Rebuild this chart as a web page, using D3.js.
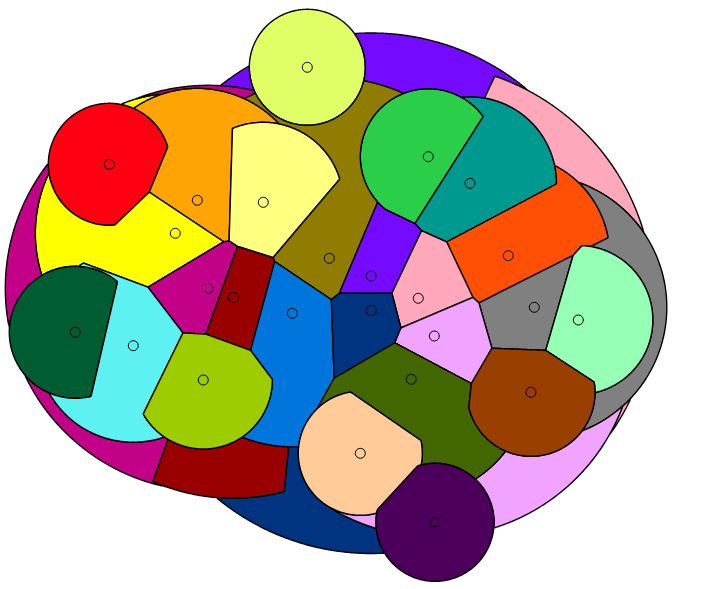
<!DOCTYPE html>
<html>
<head>
<meta charset="utf-8">
<script src="https://cdn.jsdelivr.net/npm/d3@7"></script>
<style>
  body { margin: 0; background: #fff; }
  svg { display: block; }
</style>
</head>
<body>
<svg id="chart" width="719" height="589"></svg>
<script>
// sites, in units of the plane (1 unit = 10 px)
const names = ['uranium', 'red', 'orpiment', 'xanthin', 'yellow', 'green', 'turquoise', 'zinnia',
  'khaki', 'violet', 'pink', 'mallow', 'wine', 'blue', 'navy', 'iron', 'jade', 'amethyst',
  'forest', 'sky', 'lime', 'quagmire', 'caramel', 'honeydew', 'damson'];
const siteX = [30.73, 10.93, 19.73, 26.33, 17.53, 42.83, 47.00, 50.83,
  32.93, 37.13, 41.83, 20.83, 23.33, 29.23, 37.13, 53.43, 57.83, 43.43,
  7.53, 13.33, 20.33, 41.13, 53.10, 36.03, 43.50];
const siteY = [6.73, 16.43, 20.03, 20.23, 23.33, 15.67, 18.33, 25.57,
  25.83, 27.60, 29.83, 28.83, 29.73, 31.33, 31.05, 30.73, 32.00, 33.60,
  33.23, 34.57, 38.00, 37.93, 39.23, 45.33, 52.23];
const siteR = [5.8, 6.1, 11.2, 8.0, 14.0, 6.8, 8.65, 10.15,
  18.1, 24.3, 23.5, 20.3, 20.1, 13.35, 24.3, 13.25, 7.45, 20.1,
  6.6, 9.65, 6.9, 11.85, 6.4, 6.2, 5.9];
const palette = ['#E0FF66', '#FF0010', '#FFA405', '#FFFF80', '#FFFF00', '#2BCE48', '#00998F', '#FF5005',
  '#8F7C00', '#740AFF', '#FFA8BB', '#C20088', '#990000', '#0075DC', '#003380', '#808080', '#94FFB5', '#F0A3FF',
  '#005C31', '#5EF1F2', '#9DCC00', '#426600', '#993F00', '#FFCC99', '#4C005C'];

const W = 719, H = 589;
const x = d3.scaleLinear().domain([0, 71.9]).range([0, W]);
const y = d3.scaleLinear().domain([0, 58.9]).range([0, H]);
const size = d3.scaleLinear().domain([0, 1]).range([0, 10]);

const sites = names.map((name, i) => ({
  name, cx: x(siteX[i]), cy: y(siteY[i]), rad: size(siteR[i]), color: palette[i]
}));
const n = sites.length;

// a point belongs to the nearest site among those whose circle covers it;
// the field is >= 0 exactly on the cell of site i
function cellField(i, x0, y0, w, h) {
  const s = sites[i];
  const out = new Float64Array(w * h);
  for (let gy = 0; gy < h; gy++) {
    const py = y0 + gy + 0.5;
    for (let gx = 0; gx < w; gx++) {
      const px = x0 + gx + 0.5;
      const di = Math.sqrt((px - s.cx) ** 2 + (py - s.cy) ** 2);
      let f = s.rad - di;
      if (f > -3) {
        for (let j = 0; j < n; j++) {
          if (j === i) continue;
          const t = sites[j];
          const dj = Math.sqrt((px - t.cx) ** 2 + (py - t.cy) ** 2);
          const g = Math.max(dj - t.rad, dj - di);
          if (g < f) f = g;
        }
      }
      out[gy * w + gx] = f;
    }
  }
  return out;
}

const svg = d3.select('#chart');
svg.append('rect').attr('width', W).attr('height', H).attr('fill', '#fff');

const cells = svg.append('g');
sites.forEach((s, i) => {
  const x0 = Math.max(0, Math.floor(s.cx - s.rad - 3));
  const y0 = Math.max(0, Math.floor(s.cy - s.rad - 3));
  const x1 = Math.min(W, Math.ceil(s.cx + s.rad + 3));
  const y1 = Math.min(H, Math.ceil(s.cy + s.rad + 3));
  const w = x1 - x0, h = y1 - y0;
  const values = cellField(i, x0, y0, w, h);
  const [shape] = d3.contours().size([w, h]).thresholds([0])(values);
  const path = d3.geoPath(d3.geoIdentity().translate([x0, y0]));
  cells.append('path')
    .attr('d', path(shape))
    .attr('fill', s.color)
    .attr('stroke', '#000')
    .attr('stroke-width', 1.4)
    .attr('stroke-linejoin', 'round');
});

svg.append('g')
  .selectAll('circle').data(sites).join('circle')
  .attr('cx', d => d.cx).attr('cy', d => d.cy)
  .attr('r', 5)
  .attr('fill', 'none')
  .attr('stroke', '#000')
  .attr('stroke-width', 1);
</script>
</body>
</html>
